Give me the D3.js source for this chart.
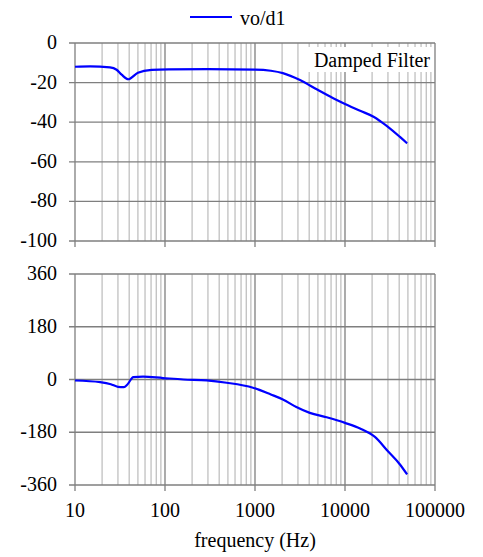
<!DOCTYPE html>
<html>
<head>
<meta charset="utf-8">
<script src="https://cdn.jsdelivr.net/npm/d3@7"></script>
<style>
  body { margin: 0; background: #fff; }
  text { font-family: "Liberation Serif", "Times New Roman", serif; fill: #000; }
</style>
</head>
<body>
<div id="canvas"></div>
<script>
// data
const magFreq  = [10, 14.7, 24.5, 29, 33, 39, 50, 71, 110, 300, 1000, 1500, 2040, 3160, 4840, 7400, 10000, 14700, 21000, 25000, 30000, 40500, 49000];
const magValue = [-12, -11.8, -12.3, -13.5, -16, -18.3, -15, -13.6, -13.3, -13.2, -13.4, -14, -15.2, -18.7, -23.4, -27.9, -30.8, -34.2, -37.4, -39.7, -42.3, -47.3, -50.7];
const phFreq   = [10, 19, 25, 30, 35, 38, 44.5, 57, 95, 160, 290, 485, 950, 1500, 2040, 2880, 4060, 6250, 10000, 14700, 21500, 30000, 40800, 49000];
const phValue  = [-3.4, -9, -16, -25, -26, -18, 8, 10, 5, 0, -3, -11, -28, -51, -68, -94, -114, -129, -148, -167, -196, -245, -290, -324];
const xTicks   = [10, 100, 1000, 10000, 100000];
const magTicks = [0, -20, -40, -60, -80, -100];
const phTicks  = [360, 180, 0, -180, -360];

const w = 483, h = 557;
const margin = { left: 75, right: 48 };
const majorColor = "#7f7f7f", minorColor = "#c0c0c0", lineColor = "#0000ff";

const svg = d3.select("#canvas").append("svg")
  .attr("width", w).attr("height", h);

const x = d3.scaleLog().domain([10, 100000]).range([margin.left, w - margin.right]);
const yMag = d3.scaleLinear().domain([-100, 0]).range([241, 43]);
const yPh = d3.scaleLinear().domain([-360, 360]).range([485, 274]);

// minor gridline positions 2..9 per decade
const minor = [];
xTicks.slice(0, -1).forEach(d => { for (let k = 2; k <= 9; k++) minor.push(d * k); });

function panel(y, ticks, freq, vals, showLabels) {
  const g = svg.append("g");
  const [y0, y1] = y.range();

  g.selectAll(".minor").data(minor).enter().append("line")
    .attr("x1", d => x(d)).attr("x2", d => x(d))
    .attr("y1", y1).attr("y2", y0)
    .attr("stroke", minorColor).attr("stroke-width", 1.3);

  g.selectAll(".hgrid").data(ticks).enter().append("line")
    .attr("x1", margin.left - 6).attr("x2", x(100000))
    .attr("y1", d => y(d)).attr("y2", d => y(d))
    .attr("stroke", majorColor).attr("stroke-width", 1.3);

  g.selectAll(".major").data(xTicks).enter().append("line")
    .attr("x1", d => x(d)).attr("x2", d => x(d))
    .attr("y1", y1).attr("y2", y0 + 6)
    .attr("stroke", majorColor).attr("stroke-width", 1.3);

  g.selectAll(".ylab").data(ticks).enter().append("text")
    .attr("x", 57).attr("y", d => y(d) + 6)
    .attr("text-anchor", "end").attr("font-size", 20)
    .text(d => d);

  const line = d3.line().x((d, i) => x(freq[i])).y(d => y(d)).curve(d3.curveMonotoneX);
  g.append("path").datum(vals)
    .attr("d", line).attr("fill", "none")
    .attr("stroke", lineColor).attr("stroke-width", 2.2);

  if (showLabels) {
    g.selectAll(".xlab").data(xTicks).enter().append("text")
      .attr("x", d => x(d)).attr("y", y0 + 32)
      .attr("text-anchor", "middle").attr("font-size", 20)
      .text(d => d);
  }
  return g;
}

panel(yMag, magTicks, magFreq, magValue, false);
panel(yPh, phTicks, phFreq, phValue, true);

// annotation box
svg.append("rect").attr("x", 307).attr("y", 47).attr("width", 125).attr("height", 25).attr("fill", "#fff");
svg.append("text").attr("x", 430).attr("y", 67).attr("text-anchor", "end")
  .attr("font-size", 20).text("Damped Filter");

// legend
svg.append("line").attr("x1", 190).attr("x2", 232).attr("y1", 17).attr("y2", 17)
  .attr("stroke", lineColor).attr("stroke-width", 2.2);
svg.append("text").attr("x", 240).attr("y", 25).attr("font-size", 20).text("vo/d1");

// axis title
svg.append("text").attr("x", 255).attr("y", 547).attr("text-anchor", "middle")
  .attr("font-size", 20).text("frequency (Hz)");
</script>
</body>
</html>
